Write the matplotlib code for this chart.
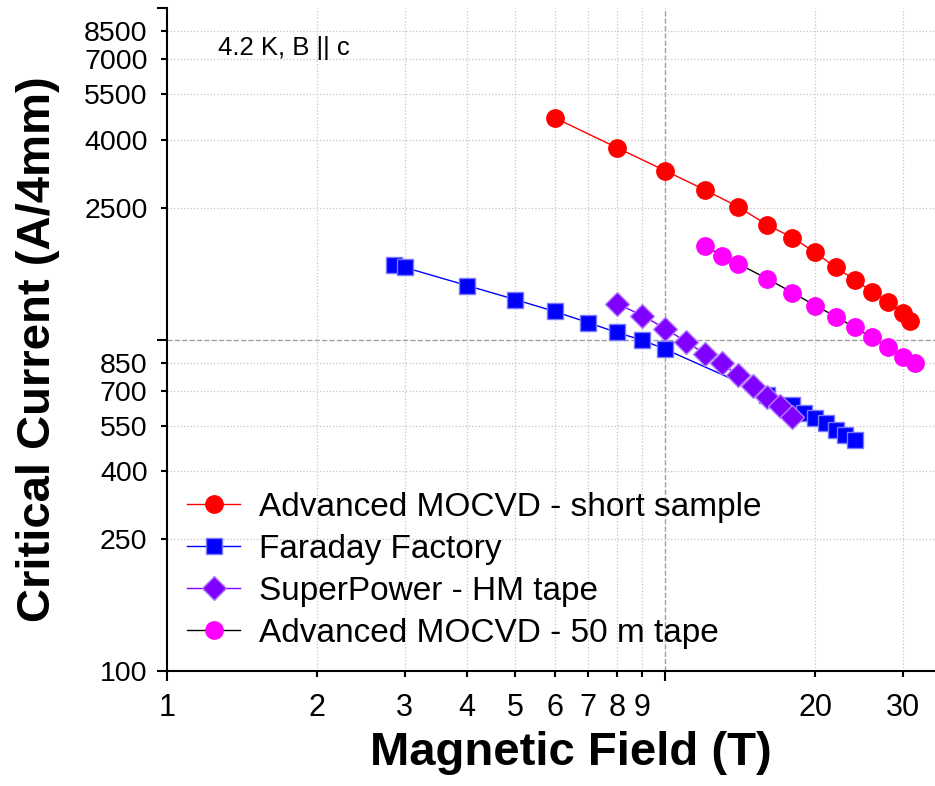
import numpy as np
import matplotlib.pyplot as plt

plt.rcParams['font.family'] = ['Liberation Sans', 'DejaVu Sans']

# Advanced MOCVD - short sample
red_x = [6, 8, 10, 12, 14, 16, 18, 20, 22, 24, 26, 28, 30, 31]
red_y = [4665, 3790, 3230, 2830, 2515, 2220, 2030, 1830, 1650, 1515, 1395, 1300, 1200, 1135]

# Faraday Factory
blue_x = [2.85, 3, 4, 5, 6, 7, 8, 9, 10, 16, 18, 19, 20, 21, 22, 23, 24]
blue_y = [1680, 1650, 1455, 1320, 1215, 1125, 1050, 995, 935, 682, 633, 600, 578, 558, 532, 514, 496]

# SuperPower - HM tape
purple_x = [8, 9, 10, 11, 12, 13, 14, 15, 16, 17, 18]
purple_y = [1283, 1181, 1079, 986, 907, 847, 779, 722, 673, 628, 582]

# Advanced MOCVD - 50 m tape
mag_x = [12, 13, 14, 16, 18, 20, 22, 24, 26, 28, 30, 31.7]
mag_y = [1919, 1791, 1694, 1527, 1386, 1266, 1173, 1087, 1014, 946, 883, 852]

labels = ['Advanced MOCVD - short sample', 'Faraday Factory',
          'SuperPower - HM tape', 'Advanced MOCVD - 50 m tape']

x_major = [1, 10]
x_major_lbl = ['1', '']
x_minor = [2, 3, 4, 5, 6, 7, 8, 9, 20, 30]
y_major = [100, 1000, 10000]
y_major_lbl = ['100', '', '']
y_minor = [250, 400, 550, 700, 850, 2500, 4000, 5500, 7000, 8500]

fig = plt.figure(figsize=(9.35, 7.86), dpi=100)
ax = fig.add_axes([167/935, 115/786, 768/935, 663/786])

ax.plot(red_x, red_y, color='red', lw=1, marker='o', ms=12.5,
        mfc='red', mec='red', label=labels[0])
ax.plot(blue_x, blue_y, color='blue', lw=1, marker='s', ms=11,
        mfc='blue', mec='#7a7aff', mew=1, label=labels[1])
ax.plot(purple_x, purple_y, color='#8000ff', lw=1, marker='D', ms=12.5,
        mfc='#8000ff', mec='#b080ff', mew=1, label=labels[2])
ax.plot(mag_x, mag_y, color='black', lw=1, marker='o', ms=12.5,
        mfc='magenta', mec='magenta', label=labels[3])

ax.set_xscale('log')
ax.set_yscale('log')
ax.set_xlim(1, 34.8)
ax.set_ylim(100, 10000)

ax.set_xticks(x_major, x_major_lbl)
ax.set_xticks(x_minor, [str(v) for v in x_minor], minor=True)
ax.set_yticks(y_major, y_major_lbl)
ax.set_yticks(y_minor, [str(v) for v in y_minor], minor=True)

ax.tick_params(which='major', length=7, width=1.5)
ax.tick_params(which='minor', length=4.3, width=1.5)
ax.tick_params(axis='y', which='major', labelsize=20.5, pad=7)
ax.tick_params(axis='y', which='minor', labelsize=20.5, pad=9.7)
ax.tick_params(axis='x', which='major', labelsize=22, pad=9)
ax.tick_params(axis='x', which='minor', labelsize=22, pad=11.7)

for s in ['top', 'right']:
    ax.spines[s].set_visible(False)
for s in ['left', 'bottom']:
    ax.spines[s].set_linewidth(1.5)

ax.grid(which='minor', ls=':', color='#c4c4c4', lw=0.9)
ax.axvline(10, ls='--', color='#a0a0a0', lw=1, zorder=0.5)
ax.axhline(1000, ls='--', color='#a0a0a0', lw=1, zorder=0.5)

ax.set_xlabel('Magnetic Field (T)', fontsize=34, fontweight='bold')
ax.set_ylabel('Critical Current (A/4mm)', fontsize=34, fontweight='bold')
ax.xaxis.set_label_coords(0.526, -0.09)
ax.yaxis.set_label_coords(-0.139, 0.485)

ax.text(0.066, 0.94, '4.2 K, B || c', transform=ax.transAxes,
        fontsize=18.5, va='center', ha='left')

ax.legend(loc='lower left', bbox_to_anchor=(0.026, 0.033), frameon=False,
          fontsize=24, handlelength=1.6, handletextpad=0.55,
          labelspacing=0.33, borderpad=0, borderaxespad=0)

fig.savefig('out.png', dpi=100)
